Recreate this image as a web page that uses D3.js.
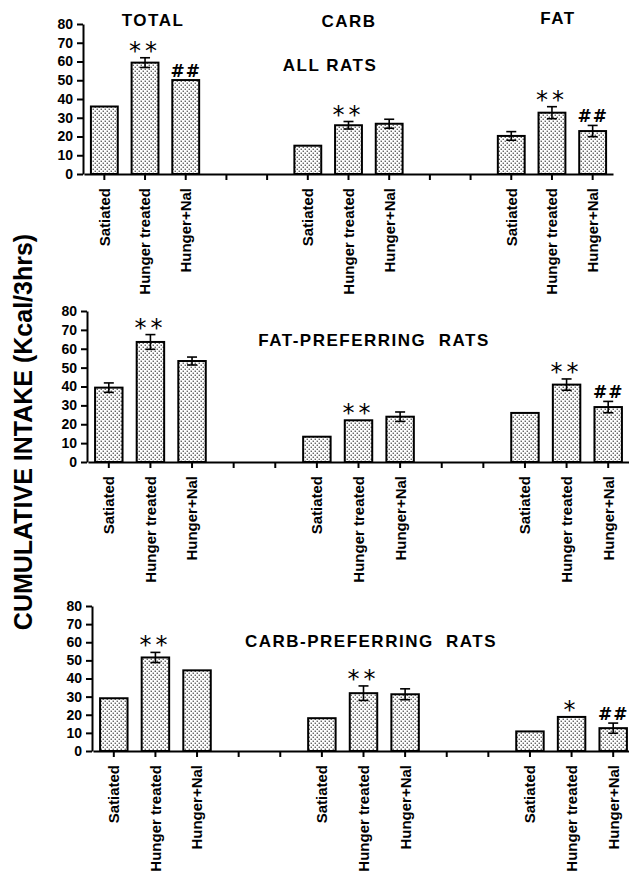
<!DOCTYPE html>
<html>
<head>
<meta charset="utf-8">
<script src="https://cdn.jsdelivr.net/npm/d3@7"></script>
<style>
	body { margin: 0; background: #fff; }
	svg { display: block; font-family: "Liberation Sans", Arial, sans-serif; }
</style>
</head>
<body>
<svg id="chart" width="629" height="877"></svg>
<script>
const groups = ["TOTAL", "CARB", "FAT"];
const conditions = ["Satiated", "Hunger treated", "Hunger+Nal"];
const yTicks = [0, 10, 20, 30, 40, 50, 60, 70, 80];

// all rats
const allRats = [36, 59.4, 50.1, 15.1, 26, 26.8, 20.3, 32.7, 22.9];
const allRatsErr = [0, 2.6, 0, 0, 2, 2.4, 2.3, 3.2, 3];
const allRatsMarks = ["", "**", "##", "", "**", "", "", "**", "##"];

// fat-preferring rats
const fatPref = [39.4, 63.6, 53.5, 13.4, 22.1, 24, 26, 41, 29.1];
const fatPrefErr = [2.5, 3.9, 2.1, 0, 0, 2.5, 0, 3, 3];
const fatPrefMarks = ["", "**", "", "", "**", "", "", "**", "##"];

// carb-preferring rats
const carbPref = [29.1, 51.6, 44.5, 18.1, 31.9, 31.3, 10.8, 18.8, 12.6];
const carbPrefErr = [0, 2.8, 0, 0, 4, 3, 0, 0, 2.8];
const carbPrefMarks = ["", "**", "", "", "**", "", "", "*", "##"];

const panels = [
	{ title: "ALL RATS", values: allRats, errs: allRatsErr, marks: allRatsMarks,
	  left: 84, right: 613, top: 24, bottom: 174, titleX: 330, titleY: 71 },
	{ title: "FAT-PREFERRING\u00a0 RATS", values: fatPref, errs: fatPrefErr, marks: fatPrefMarks,
	  left: 88, right: 629, top: 311, bottom: 462, titleX: 374, titleY: 346 },
	{ title: "CARB-PREFERRING\u00a0 RATS", values: carbPref, errs: carbPrefErr, marks: carbPrefMarks,
	  left: 93, right: 634, top: 606, bottom: 751, titleX: 371, titleY: 647 }
];

const groupTitles = [
	{ x: 153, y: 26 }, { x: 349, y: 27 }, { x: 558, y: 24 }
];

const $svg = d3.select("#chart");

// stipple fill
const pattern = $svg.append("defs").append("pattern")
	.attr("id", "dots")
	.attr("patternUnits", "userSpaceOnUse")
	.attr("width", 4).attr("height", 4);
pattern.append("rect").attr("width", 4).attr("height", 4).attr("fill", "#fff");
pattern.append("rect").attr("x", 0.6).attr("y", 0.6).attr("width", 1.3).attr("height", 1.3).attr("fill", "#444");
pattern.append("rect").attr("x", 2.6).attr("y", 2.6).attr("width", 1.3).attr("height", 1.3).attr("fill", "#444");

const slotOf = (i) => Math.floor(i / 3) * 5 + (i % 3);
const isStar = (m) => m[0] == "*";

const drawPanel = function(p) {
	const x = d3.scaleBand().domain(d3.range(13)).range([p.left, p.right]).paddingInner(0.34).paddingOuter(0.17);
	const y = d3.scaleLinear().domain([0, 80]).range([p.bottom, p.top]);
	const $g = $svg.append("g");

	const bars = p.values.map((v, i) => ({ v, err: p.errs[i], mark: p.marks[i], slot: slotOf(i), cond: conditions[i % 3] }));
	const cx = (d) => x(d.slot) + x.bandwidth() / 2;

	$g.selectAll(".bar").data(bars).enter()
		.append("rect")
		.attr("class", "bar")
		.attr("x", (d) => x(d.slot))
		.attr("width", x.bandwidth())
		.attr("y", (d) => y(d.v))
		.attr("height", (d) => y(0) - y(d.v))
		.attr("fill", "url(#dots)")
		.attr("stroke", "#000")
		.attr("stroke-width", 2);

	// error bars
	const errs = $g.selectAll(".err").data(bars.filter((d) => d.err > 0)).enter()
		.append("g").attr("class", "err")
		.attr("stroke", "#000").attr("stroke-width", 1.6);
	errs.append("line")
		.attr("x1", cx).attr("x2", cx)
		.attr("y1", (d) => y(d.v + d.err)).attr("y2", (d) => y(d.v - d.err));
	[1, -1].forEach((s) => {
		errs.append("line")
			.attr("x1", (d) => cx(d) - 5).attr("x2", (d) => cx(d) + 5)
			.attr("y1", (d) => y(d.v + s * d.err)).attr("y2", (d) => y(d.v + s * d.err));
	});

	// significance marks
	$g.selectAll(".mark").data(bars.filter((d) => d.mark)).enter()
		.append("text")
		.attr("class", "mark")
		.attr("x", cx)
		.attr("y", (d) => y(d.v + d.err) + (isStar(d.mark) ? 1 : -3))
		.attr("text-anchor", "middle")
		.attr("font-size", (d) => isStar(d.mark) ? 24 : 17)
		.attr("letter-spacing", (d) => isStar(d.mark) ? 4 : 1)
		.attr("font-family", "DejaVu Sans")
		.attr("font-weight", (d) => isStar(d.mark) ? "normal" : "bold")
		.text((d) => d.mark);

	// y axis
	const yAxis = $g.append("g")
		.attr("transform", `translate(${p.left - 1},0)`)
		.call(d3.axisLeft(y).tickValues(yTicks).tickSize(6).tickPadding(4).tickSizeOuter(0));
	yAxis.selectAll("text").attr("font-size", 14).attr("font-weight", "bold").attr("fill", "#000").attr("font-family", null);
	yAxis.selectAll("line").attr("stroke-width", 2);
	yAxis.select(".domain").attr("stroke-width", 2);

	// x axis
	const xAxis = $g.append("g")
		.attr("transform", `translate(0,${p.bottom})`)
		.call(d3.axisBottom(x).tickFormat("").tickSize(6).tickSizeOuter(0));
	xAxis.selectAll("line").attr("stroke-width", 2);
	xAxis.select(".domain").attr("stroke-width", 2);

	$g.selectAll(".xlabel").data(bars).enter()
		.append("text")
		.attr("class", "xlabel")
		.attr("transform", (d) => `translate(${cx(d)},${p.bottom + 14}) rotate(-90)`)
		.attr("dy", "0.36em")
		.attr("text-anchor", "end")
		.attr("font-size", 15)
		.attr("font-weight", "bold")
		.text((d) => d.cond);

	$g.append("text")
		.attr("x", p.titleX).attr("y", p.titleY)
		.attr("text-anchor", "middle")
		.attr("font-size", 17).attr("font-weight", "bold")
		.attr("letter-spacing", 1.5)
		.text(p.title);
};

panels.forEach(drawPanel);

$svg.selectAll(".gtitle").data(groups).enter()
	.append("text")
	.attr("class", "gtitle")
	.attr("x", (d, i) => groupTitles[i].x)
	.attr("y", (d, i) => groupTitles[i].y)
	.attr("text-anchor", "middle")
	.attr("font-size", 17).attr("font-weight", "bold")
	.attr("letter-spacing", 1.5)
	.text((d) => d);

$svg.append("text")
	.attr("transform", "translate(32,432) rotate(-90)")
	.attr("text-anchor", "middle")
	.attr("font-size", 25).attr("font-weight", "bold")
	.text("CUMULATIVE INTAKE (Kcal/3hrs)");
</script>
</body>
</html>
